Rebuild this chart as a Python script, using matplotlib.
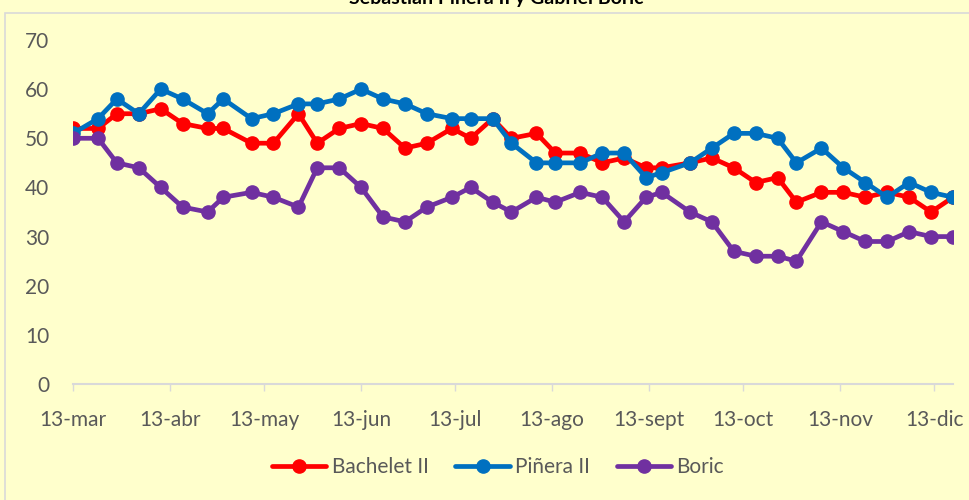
import matplotlib
matplotlib.use("Agg")
import matplotlib.pyplot as plt
import matplotlib.dates as mdates
from matplotlib.patches import Rectangle
import pandas as pd

dates = ["2022-03-13", "2022-03-21", "2022-03-27", "2022-04-03", "2022-04-10",
         "2022-04-17", "2022-04-25", "2022-04-30", "2022-05-09", "2022-05-16",
         "2022-05-24", "2022-05-30", "2022-06-06", "2022-06-13", "2022-06-20",
         "2022-06-27", "2022-07-04", "2022-07-12", "2022-07-18", "2022-07-25",
         "2022-07-31", "2022-08-08", "2022-08-14", "2022-08-22", "2022-08-29",
         "2022-09-05", "2022-09-12", "2022-09-17", "2022-09-26", "2022-10-03",
         "2022-10-10", "2022-10-17", "2022-10-24", "2022-10-30", "2022-11-07",
         "2022-11-14", "2022-11-21", "2022-11-28", "2022-12-05", "2022-12-12",
         "2022-12-19"]

bachelet = [52, 52, 55, 55, 56, 53, 52, 52, 49, 49,
            55, 49, 52, 53, 52, 48, 49, 52, 50, 54,
            50, 51, 47, 47, 45, 46, 44, 44, 45, 46,
            44, 41, 42, 37, 39, 39, 38, 39, 38, 35,
            38]
pinera = [51, 54, 58, 55, 60, 58, 55, 58, 54, 55,
          57, 57, 58, 60, 58, 57, 55, 54, 54, 54,
          49, 45, 45, 45, 47, 47, 42, 43, 45, 48,
          51, 51, 50, 45, 48, 44, 41, 38, 41, 39,
          38]
boric = [50, 50, 45, 44, 40, 36, 35, 38, 39, 38,
         36, 44, 44, 40, 34, 33, 36, 38, 40, 37,
         35, 38, 37, 39, 38, 33, 38, 39, 35, 33,
         27, 26, 26, 25, 33, 31, 29, 29, 31, 30,
         30]

series_names = ["Bachelet II", "Piñera II", "Boric"]
series_colors = ["#FF0000", "#0070C0", "#7030A0"]
tick_dates = ["2022-03-13", "2022-04-13", "2022-05-13", "2022-06-13", "2022-07-13",
              "2022-08-13", "2022-09-13", "2022-10-13", "2022-11-13", "2022-12-13"]
tick_labels = ["13-mar", "13-abr", "13-may", "13-jun", "13-jul",
               "13-ago", "13-sept", "13-oct", "13-nov", "13-dic"]
title = "Sebastián Piñera II y Gabriel Boric"

bg = "#FFFFCC"
txt = "#595959"
plt.rcParams['font.family'] = ['Lato', 'DejaVu Sans']

fig = plt.figure(figsize=(9.7, 5.0), dpi=100, facecolor=bg)
ax = fig.add_axes([73/970, 1-384/500, (953-73)/970, (384-40)/500])
ax.set_facecolor(bg)

x = pd.to_datetime(dates)
for vals, name, col in zip([bachelet, pinera, boric], series_names, series_colors):
    ax.plot(x, vals, color=col, lw=3.4, marker='o', ms=9.5, label=name,
            solid_capstyle='round', solid_joinstyle='round')

ax.set_ylim(0, 70)
ax.set_yticks(range(0, 71, 10))
ax.set_xlim(pd.Timestamp("2022-03-13"), pd.Timestamp("2022-12-19"))
ax.set_xticks(pd.to_datetime(tick_dates))
ax.set_xticklabels(tick_labels)

for s in ["top", "right", "left"]:
    ax.spines[s].set_visible(False)
ax.spines["bottom"].set_color("#D9D9D9")
ax.spines["bottom"].set_linewidth(1.5)
ax.tick_params(axis='y', length=0, pad=17, labelsize=15, labelcolor=txt)
ax.tick_params(axis='x', length=5, width=1, color="#D9D9D9", pad=14,
               labelsize=15, labelcolor=txt)

leg = fig.legend(loc='center', bbox_to_anchor=(498/970, 1-467/500), ncol=3,
                 frameon=False, fontsize=15, handlelength=2.6, handletextpad=0.25,
                 columnspacing=1.3)
for t in leg.get_texts():
    t.set_color(txt)

fig.text(496/970, 1-4/500, title, ha='center', va='baseline',
         fontsize=14, fontweight='bold', color='black')

fig.patches.append(Rectangle((5/970, -0.1), 1.1, 1-13/500+0.1,
                             transform=fig.transFigure, fill=False,
                             edgecolor="#D9D9D9", lw=1.2))

fig.savefig("out.png", dpi=100, facecolor=bg)
